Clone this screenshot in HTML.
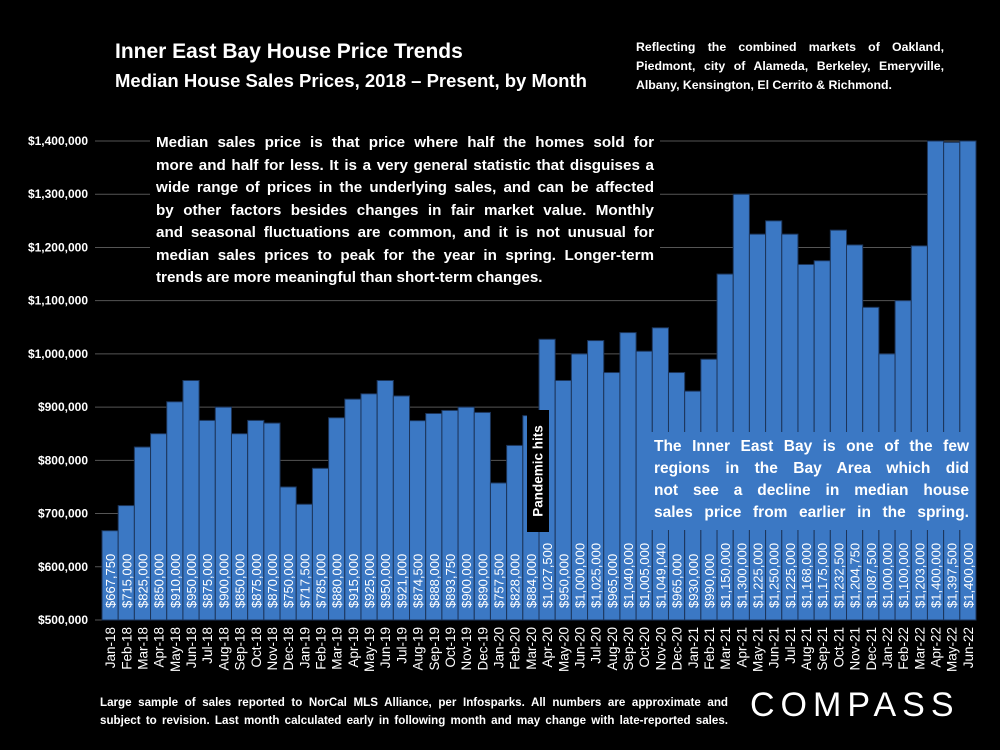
<!DOCTYPE html>
<html><head><meta charset="utf-8"><style>
body{margin:0;background:#000;}
#c{position:relative;width:1000px;height:750px;background:#000;overflow:hidden;font-family:"Liberation Sans",sans-serif;color:#fff;}
.j div{white-space:nowrap;text-align:justify;text-align-last:justify;}
.j div.l{text-align-last:left;}
</style></head><body>
<div id="c">
<div style="position:absolute;left:115px;top:40px;font-size:21px;font-weight:bold;">Inner East Bay House Price Trends</div>
<div style="position:absolute;left:115px;top:70px;font-size:18.5px;font-weight:bold;">Median House Sales Prices, 2018 – Present, by Month</div>
<div class="j" style="position:absolute;left:636px;top:38px;width:308px;font-size:12.3px;font-weight:bold;line-height:19px;"><div>Reflecting the combined markets of Oakland,</div><div>Piedmont, city of Alameda, Berkeley, Emeryville,</div><div class="l">Albany, Kensington, El Cerrito &amp; Richmond.</div></div>
<svg id="s" width="1000" height="750" style="position:absolute;left:0;top:0"></svg>
<div class="j" style="position:absolute;left:150px;top:128px;width:498px;background:#000;padding:4px 6px;font-size:15.2px;font-weight:bold;line-height:22.5px;"><div>Median sales price is that price where half the homes sold for</div><div>more and half for less. It is a very general statistic that disguises a</div><div>wide range of prices in the underlying sales, and can be affected</div><div>by other factors besides changes in fair market value. Monthly</div><div>and seasonal fluctuations are common, and it is not unusual for</div><div>median sales prices to peak for the year in spring. Longer-term</div><div class="l">trends are more meaningful than short-term changes.</div></div>
<div class="j" style="position:absolute;left:648px;top:432px;width:315px;height:90px;background:#3b78c4;padding:4px 6px;box-sizing:content-box;font-size:15.5px;font-weight:bold;line-height:22px;"><div>The Inner East Bay is one of the few</div><div>regions in the Bay Area which did</div><div>not see a decline in median house</div><div>sales price from earlier in the spring.</div></div>
<div style="position:absolute;left:527px;top:410px;width:22px;height:122px;background:#000;"><div style="position:absolute;left:11px;top:61px;transform:translate(-50%,-50%) rotate(-90deg);white-space:nowrap;font-size:13.5px;font-weight:bold;">Pandemic hits</div></div>
<div class="j" style="position:absolute;left:100px;top:694px;width:628px;font-size:11.6px;font-weight:bold;line-height:18px;"><div>Large sample of sales reported to NorCal MLS Alliance, per Infosparks. All numbers are approximate and</div><div>subject to revision. Last month calculated early in following month and may change with late-reported sales.</div></div>
<div style="position:absolute;left:750px;top:686px;font-size:34px;letter-spacing:6px;">COMPASS</div>
</div>
<script>
const months=["Jan-18","Feb-18","Mar-18","Apr-18","May-18","Jun-18","Jul-18","Aug-18","Sep-18","Oct-18","Nov-18","Dec-18","Jan-19","Feb-19","Mar-19","Apr-19","May-19","Jun-19","Jul-19","Aug-19","Sep-19","Oct-19","Nov-19","Dec-19","Jan-20","Feb-20","Mar-20","Apr-20","May-20","Jun-20","Jul-20","Aug-20","Sep-20","Oct-20","Nov-20","Dec-20","Jan-21","Feb-21","Mar-21","Apr-21","May-21","Jun-21","Jul-21","Aug-21","Sep-21","Oct-21","Nov-21","Dec-21","Jan-22","Feb-22","Mar-22","Apr-22","May-22","Jun-22"];
const prices=[667750,715000,825000,850000,910000,950000,875000,900000,850000,875000,870000,750000,717500,785000,880000,915000,925000,950000,921000,874500,888000,893750,900000,890000,757500,828000,884000,1027500,950000,1000000,1025000,965000,1040000,1005000,1049040,965000,930000,990000,1150000,1300000,1225000,1250000,1225000,1168000,1175000,1232500,1204750,1087500,1000000,1100000,1203000,1400000,1397500,1400000];
const yTicks=[500000,600000,700000,800000,900000,1000000,1100000,1200000,1300000,1400000];
const NS="http://www.w3.org/2000/svg",s=document.getElementById('s');
const x0=102,x1=976,yMin=500000,yMax=1400000,py0=620,py1=141;
const y=v=>py0-(v-yMin)/(yMax-yMin)*(py0-py1);
const bw=(x1-x0)/months.length;
const xs=i=>x0+i*bw;
function mk(t,a){const e=document.createElementNS(NS,t);for(const k in a)e.setAttribute(k,a[k]);s.appendChild(e);return e;}
yTicks.forEach(v=>{
 const g=mk('line',{x1:95,x2:x1,y1:y(v),y2:y(v),stroke:'#555','stroke-width':1});
 
 
 const t=mk('text',{x:88,y:y(v)+4,'text-anchor':'end',fill:'#fff','font-size':12,'font-weight':'bold','font-family':'Liberation Sans'});
 t.textContent='$'+v.toLocaleString('en-US');
 
 
});
prices.forEach((v,i)=>{
 const r=mk('rect',{x:xs(i),y:y(v),width:bw,height:py0-y(v),fill:'#3b78c4',stroke:'#1c355a','stroke-width':1});
 
 
 const cx=xs(i)+bw/2+5;
 const t=mk('text',{x:cx,y:608,transform:`rotate(-90 ${cx} 608)`,fill:'#fff','font-size':13,'font-family':'Liberation Sans'});
 t.textContent='$'+v.toLocaleString('en-US');
 
 
 const lx=xs(i)+bw/2+5;
 const l=mk('text',{x:lx,y:627,transform:`rotate(-90 ${lx} 627)`,'text-anchor':'end',fill:'#fff','font-size':13.5,'font-family':'Liberation Sans'});
 l.textContent=months[i];
 
 
});
</script>
</body></html>
